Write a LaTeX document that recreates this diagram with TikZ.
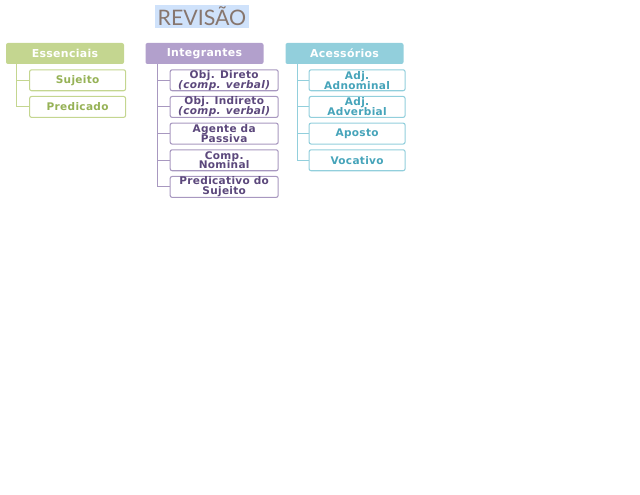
\documentclass[tikz,border=0pt]{standalone}
\usepackage{fontspec}
\setmainfont{DejaVu Sans}[LetterSpace=3]
\newfontfamily\titlefont{Lato}
\usetikzlibrary{positioning}
\newcommand{\tightlines}{\lineskiplimit=-6pt\relax}
\definecolor{essFill}{RGB}{196,214,144}
\definecolor{essInk}{RGB}{150,178,86}
\definecolor{intFill}{RGB}{178,160,204}
\definecolor{intInk}{RGB}{92,72,124}
\definecolor{intLine}{RGB}{168,152,192}
\definecolor{aceFill}{RGB}{146,207,220}
\definecolor{aceInk}{RGB}{70,164,186}
\definecolor{titleInk}{RGB}{135,118,110}
\definecolor{titleFill}{RGB}{207,226,251}
\tikzset{
  head/.style={
    rounded corners=1.5pt,
    minimum width=88.5pt,
    minimum height=15.75pt,
    inner sep=0.5pt,
    text=white,
    font=\fontsize{8.2}{7}\selectfont\bfseries
  },
  item/.style={
    draw,
    line width=0.8pt,
    rounded corners=1.5pt,
    fill=white,
    align=center,
    minimum height=15.7pt,
    inner xsep=1pt,
    inner ysep=0pt,
    font=\fontsize{7.9}{7.3}\selectfont\bfseries\tightlines
  },
  essItem/.style={item, draw=essFill, text=essInk, minimum width=72pt},
  intItem/.style={item, draw=intLine, text=intInk, minimum width=81pt},
  aceItem/.style={item, draw=aceFill, text=aceInk, minimum width=72pt},
  branch/.style={line width=0.8pt}
}
\begin{document}
\begin{tikzpicture}[x=0.75pt, y=-0.75pt, node distance=3.5pt]
  \useasboundingbox (0,0) rectangle (640,495);

  % title
  \node[fill=titleFill, minimum width=70.5pt, minimum height=17.25pt, inner sep=0pt,
        text=titleInk, font=\titlefont\fontsize{16}{14}\selectfont] (title) at (202,16.5) {REVISÃO};

  % headers
  \node[head, fill=essFill] (ess) at (65,53.5) {Essenciais};
  \node[head, fill=intFill] (int) at (204.5,53.5) {Integrantes};
  \node[head, fill=aceFill] (ace) at (344.5,53.5) {Acessórios};

  % Essenciais
  \node[essItem, below=3.75pt of ess.south west, anchor=north west, xshift=17.5pt] (suj) {Sujeito};
  \node[essItem, below=of suj] (pred) {Predicado};

  % Integrantes
  \node[intItem, below=3.75pt of int.south west, anchor=north west, xshift=18.3pt] (od) {Obj. Direto\\\itshape(comp. verbal)};
  \node[intItem, below=of od] (oi) {Obj. Indireto\\\itshape(comp. verbal)};
  \node[intItem, below=of oi] (ap) {Agente da\\Passiva};
  \node[intItem, below=of ap] (cn) {Comp.\\Nominal};
  \node[intItem, below=of cn] (ps) {Predicativo do\\Sujeito};

  % Acessórios
  \node[aceItem, below=3.75pt of ace.south west, anchor=north west, xshift=17.5pt] (adn) {Adj.\\Adnominal};
  \node[aceItem, below=of adn] (adv) {Adj.\\Adverbial};
  \node[aceItem, below=of adv] (apo) {Aposto};
  \node[aceItem, below=of apo] (voc) {Vocativo};

  % branches
  \draw[branch, draw=essFill] ([xshift=8.25pt]ess.south west) |- (pred.west);
  \draw[branch, draw=essFill] ([xshift=8.25pt]ess.south west) |- (suj.west);
  \foreach \n in {od, oi, ap, cn, ps}
    \draw[branch, draw=intLine] ([xshift=9pt]int.south west) |- (\n.west);
  \foreach \n in {adn, adv, apo, voc}
    \draw[branch, draw=aceFill] ([xshift=9pt]ace.south west) |- (\n.west);
\end{tikzpicture}
\end{document}
